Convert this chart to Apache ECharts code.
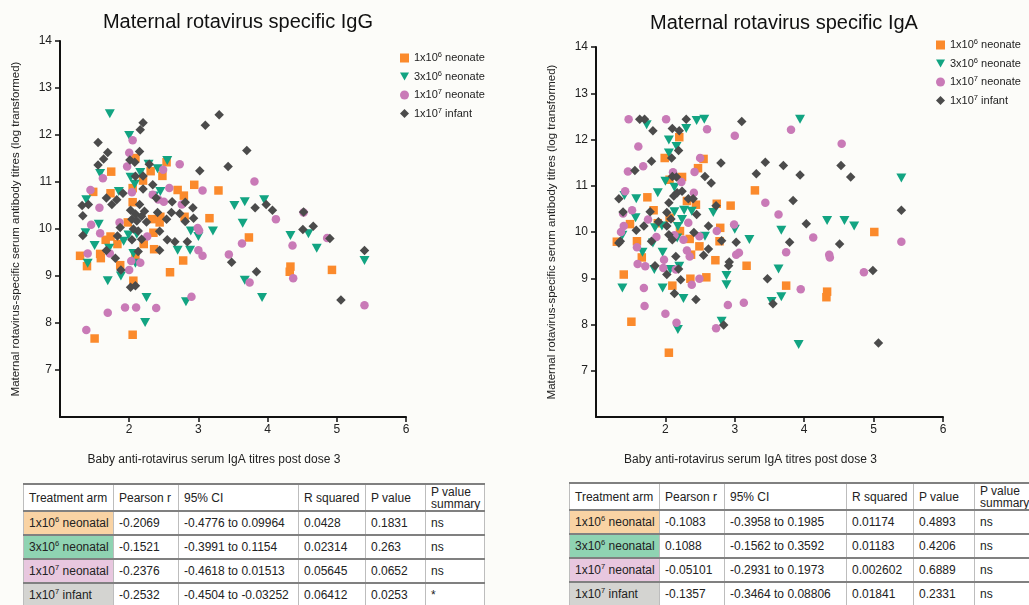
<!DOCTYPE html>
<html>
<head>
<meta charset="utf-8">
<script src="https://cdn.jsdelivr.net/npm/echarts@6/dist/echarts.min.js"></script>
<style>
  html, body { margin: 0; padding: 0; background: #fcfcf9; overflow: hidden; }
  #chart { position: absolute; left: 0; top: 0; width: 1029px; height: 605px; }
  table.stats {
    position: absolute;
    border-collapse: collapse;
    table-layout: fixed;
    font: 12px 'Liberation Sans', Arial, sans-serif;
    color: #222;
    background: #fff;
  }
  table.stats td {
    box-sizing: border-box;
    border-left: 1px solid #bdbdbd;
    border-right: 1px solid #bdbdbd;
    border-top: 2px solid #808080;
    border-bottom: 2px solid #808080;
    padding: 0 5px;
    white-space: nowrap;
    overflow: hidden;
  }
  table.stats tr.head td { height: 27px; }
  table.stats tr.head td.wrap { white-space: normal; line-height: 12px; font-size: 12px; }
  table.stats tr.row td { height: 24px; }
  table.stats sup { font-size: 7.5px; vertical-align: 5px; line-height: 0; }
</style>
</head>
<body>
<div id="chart"></div>
<table class="stats" id="tblIgG" style="left:23px; top:483px;"></table>
<table class="stats" id="tblIgA" style="left:569px; top:482px;"></table>
<script>
// ---- scatter data: [baby IgA titre, maternal titre] ----
const iggOrange = [[2.09,11.51],[2.54,11.42],[1.74,11.22],[2.31,11.23],[2.48,11.13],[1.48,10.79],[1.73,10.76],[2.05,10.87],[2.2,11.03],[2.7,10.83],[2.79,10.71],[2.94,10.94],[3.29,10.82],[2.05,10.57],[2.8,10.26],[3.16,10.23],[2.45,10.26],[1.98,10.14],[2.33,10.21],[2.44,10.14],[3.73,9.82],[1.73,9.84],[1.29,9.43],[1.39,9.21],[1.58,9.47],[1.59,9.38],[1.66,9.77],[1.83,9.68],[1.87,9.23],[2.06,8.9],[2.09,9.38],[2.21,9.68],[2.35,9.92],[2.36,9.57],[2.59,9.08],[2.78,9.33],[4.33,9.2],[4.32,9.09],[4.93,9.13],[1.5,7.67],[2.05,7.75]];
const iggGreen = [[1.72,12.45],[2.0,11.99],[1.58,11.18],[1.85,10.8],[1.38,10.62],[1.56,10.1],[2.41,11.28],[2.55,11.46],[2.28,11.38],[2.02,11.1],[2.16,11.2],[2.08,10.95],[2.45,10.8],[2.36,10.7],[3.52,10.5],[3.67,10.58],[3.95,10.62],[3.64,10.12],[3.21,9.96],[2.89,9.96],[4.33,9.86],[4.59,9.9],[1.37,9.92],[1.5,9.65],[1.4,9.27],[1.69,8.9],[1.71,9.59],[1.88,9.0],[1.92,9.74],[1.99,9.87],[2.06,9.48],[2.09,9.27],[2.11,9.89],[2.25,8.54],[2.23,8.01],[2.7,9.55],[2.82,8.45],[2.88,9.55],[3.0,9.84],[3.67,8.91],[3.92,8.54],[4.71,9.59],[5.4,9.33]];
const iggPink = [[2.05,11.89],[2.0,11.62],[1.97,11.33],[2.73,11.38],[1.62,11.08],[1.44,10.83],[1.57,10.45],[1.45,10.09],[2.34,10.73],[2.49,11.26],[2.58,10.87],[2.42,10.63],[3.06,10.82],[2.5,10.58],[2.76,10.52],[3.81,11.01],[4.12,10.21],[4.52,10.35],[2.04,10.78],[1.86,10.14],[2.99,10.02],[3.01,9.97],[4.86,9.81],[1.58,9.91],[1.38,7.85],[1.4,9.48],[1.69,8.22],[1.72,9.48],[1.94,8.33],[2.0,9.13],[2.03,9.32],[2.1,8.33],[2.16,9.28],[2.26,9.84],[2.39,8.32],[2.9,8.56],[3.0,9.55],[3.06,9.43],[3.44,9.46],[3.63,9.69],[3.74,8.86],[4.36,9.65],[4.37,8.95],[5.4,8.38]];
const iggDark = [[2.2,12.26],[2.16,12.11],[3.1,12.21],[3.3,12.43],[1.55,11.84],[1.69,11.63],[1.63,11.49],[1.55,11.36],[3.7,11.67],[3.43,11.33],[3.02,11.24],[2.15,11.65],[2.01,11.47],[2.08,11.42],[2.29,11.38],[2.09,11.12],[2.2,11.13],[2.2,10.85],[2.34,10.94],[1.91,10.76],[1.67,10.66],[1.82,10.62],[1.75,10.52],[1.32,10.5],[1.41,10.52],[1.33,10.28],[1.33,9.86],[2.39,10.66],[2.62,10.58],[2.81,10.57],[2.92,10.45],[2.93,10.23],[2.73,10.33],[2.61,10.35],[2.41,10.35],[2.54,10.21],[2.81,10.16],[2.44,9.95],[2.02,10.4],[2.09,10.32],[2.04,10.21],[2.11,10.17],[2.18,10.27],[2.22,10.38],[2.15,10.52],[2.25,10.15],[2.06,10.0],[2.13,9.96],[1.87,10.03],[3.82,10.45],[3.98,10.52],[4.07,10.4],[4.52,10.36],[4.66,10.06],[4.51,9.99],[4.9,9.8],[1.67,9.54],[1.8,9.38],[1.83,9.85],[1.88,9.13],[2.02,8.76],[2.09,8.79],[2.04,9.77],[2.13,9.52],[2.18,9.78],[2.44,9.55],[2.55,9.77],[2.66,9.73],[2.84,9.73],[3.48,9.29],[3.84,9.09],[5.06,8.49],[5.4,9.54]];

const igaOrange = [[2.2,12.05],[1.99,11.6],[2.06,11.13],[2.24,11.19],[2.55,11.58],[2.47,11.38],[1.74,10.75],[1.83,10.47],[2.31,10.67],[2.44,10.59],[2.74,10.61],[2.94,10.57],[2.79,10.09],[3.29,10.9],[5.01,10.0],[1.49,10.17],[1.89,10.19],[2.06,10.31],[2.21,10.02],[1.3,9.79],[1.59,9.8],[1.66,9.45],[1.4,9.08],[1.51,8.06],[2.05,7.39],[2.1,8.84],[2.35,9.85],[2.37,9.51],[2.49,9.69],[2.36,8.99],[2.59,9.02],[2.72,9.39],[2.78,9.8],[3.17,9.27],[3.74,8.84],[4.33,8.71],[4.32,8.59]];
const igaGreen = [[1.73,12.32],[2.05,11.99],[2.45,12.41],[2.56,12.44],[2.3,12.24],[2.05,11.71],[2.16,11.85],[2.0,11.1],[1.41,10.79],[1.58,10.72],[1.89,10.85],[2.13,10.97],[2.13,10.44],[2.27,10.47],[2.38,10.45],[2.24,10.27],[2.18,10.12],[2.69,10.42],[1.57,10.31],[1.85,10.09],[1.95,10.13],[1.38,9.93],[3.0,10.06],[3.67,10.04],[3.94,12.44],[4.33,10.25],[4.58,10.25],[4.72,10.13],[5.4,11.17],[3.21,9.84],[2.57,9.91],[1.38,8.79],[1.67,9.56],[1.82,9.76],[1.84,9.19],[1.96,9.56],[1.96,8.79],[2.07,9.19],[2.2,9.26],[2.17,9.87],[2.26,8.56],[2.18,7.89],[2.81,8.07],[2.88,9.06],[2.88,8.86],[3.53,8.5],[3.67,8.6],[3.63,9.2],[3.92,7.57]];
const igaPink = [[1.47,12.44],[2.01,12.44],[1.61,11.85],[1.68,11.42],[1.46,11.31],[1.42,10.88],[1.52,10.47],[1.39,10.4],[1.4,10.13],[1.36,10.0],[2.6,12.22],[3.0,12.08],[3.81,12.21],[4.54,11.91],[2.11,11.29],[2.23,11.08],[2.41,10.85],[2.42,11.3],[2.5,11.6],[2.33,10.2],[3.44,10.63],[3.63,10.38],[2.99,10.16],[4.13,9.88],[2.74,10.02],[1.75,10.27],[1.59,9.67],[1.6,9.31],[1.71,9.26],[1.69,8.79],[1.7,8.4],[1.87,9.89],[1.98,9.4],[1.97,9.22],[2.0,8.23],[2.16,8.04],[2.26,9.83],[2.31,9.6],[2.35,9.47],[2.38,8.86],[2.49,8.99],[2.49,9.91],[2.13,9.93],[2.9,8.42],[2.73,7.92],[3.02,9.51],[3.06,9.55],[3.13,8.47],[3.74,9.56],[3.95,8.76],[4.36,9.51],[4.37,9.45],[4.86,9.13],[5.4,9.79],[2.15,9.19]];
const igaDark = [[1.63,12.44],[1.7,12.44],[1.82,12.19],[2.1,12.24],[2.2,12.19],[2.3,12.44],[3.1,12.39],[1.8,11.53],[1.56,11.33],[2.09,11.6],[2.19,11.76],[2.1,11.2],[2.16,11.19],[2.8,11.49],[2.57,11.2],[2.66,11.06],[3.44,11.51],[3.31,11.26],[3.7,11.44],[3.94,11.23],[3.84,10.68],[4.53,11.44],[4.67,11.19],[5.4,10.47],[4.03,10.18],[1.33,10.72],[1.39,10.43],[1.58,10.04],[1.69,10.13],[1.78,10.44],[1.9,10.22],[2.02,10.42],[2.05,10.63],[2.12,10.78],[2.17,10.85],[2.24,10.88],[2.33,10.72],[2.4,10.72],[2.45,10.38],[2.73,10.57],[2.41,9.99],[2.62,10.13],[2.08,10.28],[2.02,10.13],[1.33,9.76],[1.35,9.8],[1.8,9.8],[1.85,9.27],[2.02,9.08],[2.05,9.94],[2.1,9.83],[2.15,9.47],[2.19,9.2],[2.22,8.97],[2.13,8.67],[2.44,8.54],[2.55,9.5],[2.62,9.63],[2.81,9.81],[2.92,9.35],[2.91,9.27],[3.02,9.78],[2.84,7.99],[3.47,8.99],[3.55,8.45],[3.79,9.78],[4.51,9.74],[4.99,9.17],[5.07,7.6]];

const groupNames = ['1x10^6 neonate', '3x10^6 neonate', '1x10^7 neonate', '1x10^7 infant'];
const xTicks = [1, 6];   // baby IgA axis range
const yTicks = [6, 14];  // maternal titre axis range

// ---- correlation tables ----
const tableHead = ['Treatment arm', 'Pearson r', '95% CI', 'R squared', 'P value', 'P value summary'];
const armNames = ['1x10^6 neonatal', '3x10^6 neonatal', '1x10^7 neonatal', '1x10^7 infant'];
const iggPearson = ['-0.2069', '-0.1521', '-0.2376', '-0.2532'];
const iggCI = ['-0.4776 to 0.09964', '-0.3991 to 0.1154', '-0.4618 to 0.01513', '-0.4504 to -0.03252'];
const iggR2 = ['0.0428', '0.02314', '0.05645', '0.06412'];
const iggP = ['0.1831', '0.263', '0.0652', '0.0253'];
const iggSummary = ['ns', 'ns', 'ns', '*'];
const igaPearson = ['-0.1083', '0.1088', '-0.05101', '-0.1357'];
const igaCI = ['-0.3958 to 0.1985', '-0.1562 to 0.3592', '-0.2931 to 0.1973', '-0.3464 to 0.08806'];
const igaR2 = ['0.01174', '0.01183', '0.002602', '0.01841'];
const igaP = ['0.4893', '0.4206', '0.6889', '0.2331'];
const igaSummary = ['ns', 'ns', 'ns', 'ns'];

const FONT = "'Liberation Sans', Arial, sans-serif";
const colors = ['#fb8a2c', '#12a482', '#c97ab7', '#4b4b4b'];
const armFills = ['#f9d3a4', '#8fd3b2', '#e8c7df', '#d4d4d1'];
// downward triangle drawn as a path so the legend icon points down too
const symbols = [
  { symbol: 'rect', size: 8.5 },
  { symbol: 'path://M0,0 L10,0 L5,9 Z', size: [10, 9] },
  { symbol: 'circle', size: 8.5 },
  { symbol: 'diamond', size: 9.5 }
];

const supText = s => s.replace(/\^(\d+)/, '{sup|$1}');
const supHtml = s => s.replace(/\^(\d+)/, '<sup>$1</sup>');

const makeAxes = (idx) => {
  const tickStyle = { show: true, length: 5, lineStyle: { color: '#111', width: 1.5 } };
  const label = { color: '#222', fontSize: 12, fontFamily: FONT, showMinLabel: false };
  return {
    x: {
      type: 'value', gridIndex: idx, min: xTicks[0], max: xTicks[1], interval: 1,
      axisLine: { lineStyle: { color: '#111', width: 2 } },
      axisTick: tickStyle, axisLabel: Object.assign({ margin: 7 }, label),
      splitLine: { show: false },
      name: 'Baby anti-rotavirus serum IgA titres post dose 3',
      nameLocation: 'middle', nameGap: 37,
      nameTextStyle: { color: '#222', fontSize: 12, fontFamily: FONT, padding: [0, 38, 0, 0] }
    },
    y: {
      type: 'value', gridIndex: idx, min: yTicks[0], max: yTicks[1], interval: 1,
      axisLine: { lineStyle: { color: '#111', width: 2 } },
      axisTick: tickStyle, axisLabel: Object.assign({ margin: 8 }, label),
      splitLine: { show: false },
      name: 'Maternal rotavirus-specific serum antibody titres (log transformed)',
      nameLocation: 'middle', nameGap: 38, nameRotate: 90,
      nameTextStyle: { color: '#222', fontSize: 11.5, fontFamily: FONT }
    }
  }
}

const makeSeries = (idx, sets) => sets.map((data, i) => ({
  type: 'scatter',
  name: groupNames[i],
  xAxisIndex: idx,
  yAxisIndex: idx,
  data: data,
  symbol: symbols[i].symbol,
  symbolSize: symbols[i].size,
  itemStyle: { color: colors[i], opacity: 1 },
  emphasis: { disabled: true },
  z: 2 + i
}))

const makeLegend = (left, top) => ({
  orient: 'vertical',
  left: left,
  top: top,
  itemWidth: 9,
  itemHeight: 9,
  itemGap: 4.5,
  selectedMode: false,
  data: groupNames,
  formatter: name => supText(name),
  textStyle: {
    color: '#222', fontSize: 11, fontFamily: FONT, lineHeight: 14,
    rich: { sup: { fontSize: 7.5, fontFamily: FONT, color: '#222', lineHeight: 8, verticalAlign: 'top', padding: [0, 0, 6, 0] } }
  }
})

const left = makeAxes(0)
const right = makeAxes(1)

const option = {
  backgroundColor: '#fcfcf9',
  animation: false,
  title: [
    { text: 'Maternal rotavirus specific IgG', left: 233, top: 7, textAlign: 'center',
      textStyle: { fontSize: 20, fontWeight: 'normal', color: '#111', fontFamily: FONT } },
    { text: 'Maternal rotavirus specific IgA', left: 779, top: 8, textAlign: 'center',
      textStyle: { fontSize: 20, fontWeight: 'normal', color: '#111', fontFamily: FONT } }
  ],
  legend: [makeLegend(395, 46), makeLegend(931, 33)],
  grid: [
    { left: 60, top: 41, width: 346, height: 376 },
    { left: 596, top: 47, width: 347, height: 370 }
  ],
  xAxis: [left.x, right.x],
  yAxis: [left.y, right.y],
  series: makeSeries(0, [iggOrange, iggGreen, iggPink, iggDark])
    .concat(makeSeries(1, [igaOrange, igaGreen, igaPink, igaDark]))
}

const chart = echarts.init(document.getElementById('chart'))
chart.setOption(option)

// tables, column widths are outer widths
const buildTable = (el, cols, widths) => {
  el.style.width = widths.reduce((a, b) => a + b, 0) + 'px'
  let html = '<colgroup>' + widths.map(w => '<col style="width:' + w + 'px">').join('') + '</colgroup>'
  html += '<tr class="head">' + tableHead.map((h, i) =>
    '<td' + (i === tableHead.length - 1 ? ' class="wrap"' : '') + '>' + h + '</td>').join('') + '</tr>'
  armNames.forEach((arm, r) => {
    html += '<tr class="row"><td style="background:' + armFills[r] + '">' + supHtml(arm) + '</td>'
    html += cols.map(c => '<td>' + c[r] + '</td>').join('') + '</tr>'
  })
  el.innerHTML = html
}

buildTable(document.getElementById('tblIgG'), [iggPearson, iggCI, iggR2, iggP, iggSummary], [90, 65, 120, 67, 60, 59])
buildTable(document.getElementById('tblIgA'), [igaPearson, igaCI, igaR2, igaP, igaSummary], [90, 65, 122, 67, 61, 62])
</script>
</body>
</html>
